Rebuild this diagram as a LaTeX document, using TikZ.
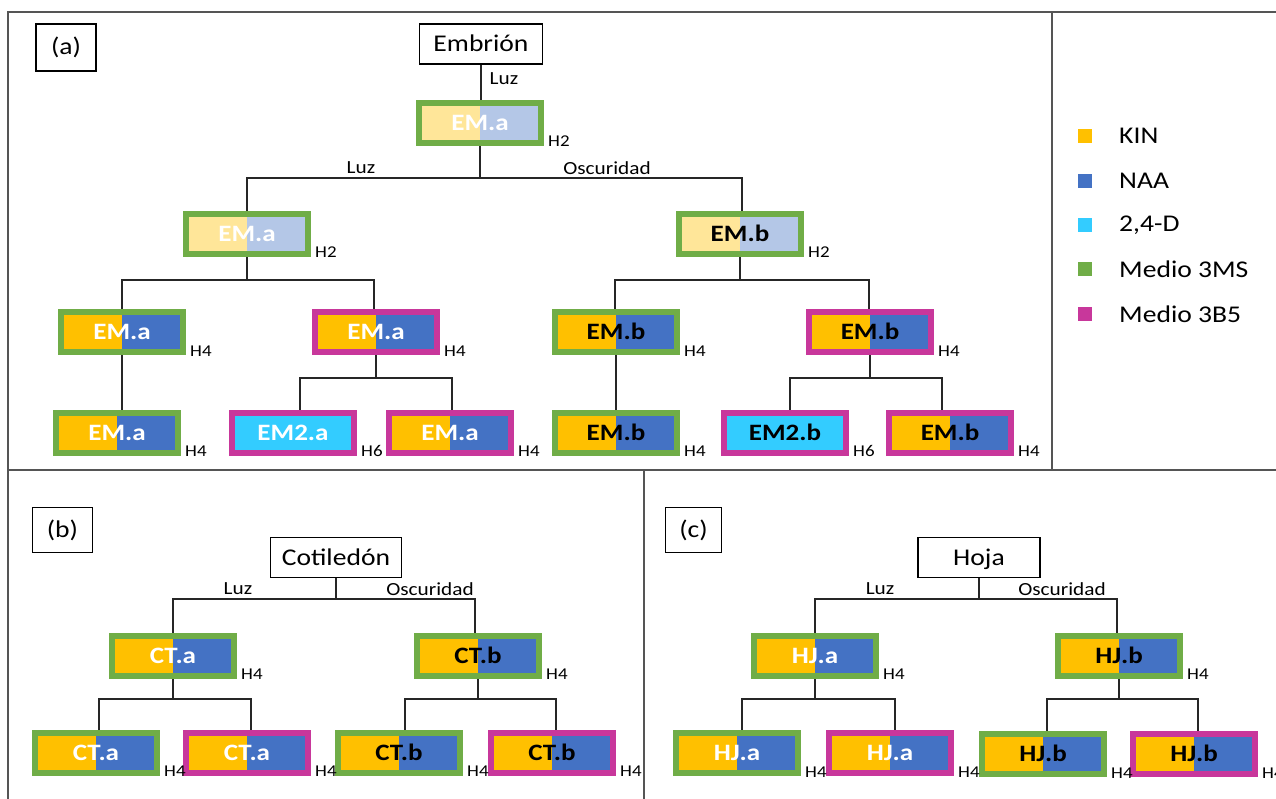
\documentclass[tikz,border=0pt]{standalone}
\usepackage{fontspec}
\setmainfont{Carlito}[FakeStretch=1.15]
\usetikzlibrary{backgrounds}
\definecolor{kin}{HTML}{FFC000}
\definecolor{naa}{HTML}{4472C4}
\definecolor{kinl}{HTML}{FFE699}
\definecolor{naal}{HTML}{B4C7E7}
\definecolor{cyn}{HTML}{33CCFF}
\definecolor{grn}{HTML}{70AD47}
\definecolor{mag}{HTML}{C8379B}
\definecolor{frm}{HTML}{555555}
\definecolor{cln}{HTML}{262626}
\tikzset{
  lcol/.store in=\lcol, rcol/.store in=\rcol, lcol=kin, rcol=naa,
  cbox/.style={rectangle, line width=6pt, minimum width=122pt, minimum height=40pt,
    inner sep=0pt, font=\fontsize{23.5}{24}\selectfont\bfseries, text height=15pt, text depth=0pt,
    path picture={\fill[\lcol] (path picture bounding box.south west) rectangle (path picture bounding box.north);
                  \fill[\rcol] (path picture bounding box.south) rectangle (path picture bounding box.north east);}},
  g/.style={draw=grn}, m/.style={draw=mag},
  ka/.style={lcol=kin, rcol=naa}, fa/.style={lcol=kinl, rcol=naal}, cy/.style={lcol=cyn, rcol=cyn},
  wt/.style={text=white}, bt/.style={text=black},
  tbox/.style={draw=black, line width=1.3pt, rectangle, minimum height=40pt, inner sep=0pt,
    font=\fontsize{24}{25}\selectfont, text height=15pt, text depth=0pt},
  lbl/.style={font=\fontsize{18.5}{19}\selectfont, inner sep=0pt},
  hlab/.style={font=\fontsize{16.5}{17}\selectfont, inner sep=0pt, anchor=base west},
  sq/.style={rectangle, minimum size=14pt, inner sep=0pt},
  legt/.style={font=\fontsize{24}{25}\selectfont, inner sep=0pt, anchor=west},
  conn/.style={draw=cln, line width=1.3pt},
  frame/.style={draw=frm, line width=2pt},
}
\newcommand\Hlab[2]{\node[hlab] (#1-h) at ([xshift=4pt,yshift=-1pt]#1.south east) {#2};}
\newcommand\fork[6]{%
  \coordinate (#1-f1) at (#4,#2); \coordinate (#1-f2) at (#6,#2);
  \draw[conn] (#1.south) -- (#1.south |- #1-f1);
  \draw[conn] (#3.north -| #1-f1) -- (#1-f1) -- (#1-f2) -- (#5.north -| #1-f2);}
\begin{document}
\begin{tikzpicture}[x=1pt, y=-1pt]
\useasboundingbox (0,0) rectangle (1276,799);
% ---------- panel (a)
\node[tbox, minimum width=60pt, minimum height=47pt] (pa) at (66,47.5) {(a)};
\node[tbox, minimum width=123pt] (emb) at (481,44) {Embrión};
\node[cbox, g, fa, wt] (a0) at (480,123) {EM.a};
\node[cbox, g, fa, wt] (a1) at (247,234) {EM.a};
\node[cbox, g, fa, bt] (b1) at (740,234) {EM.b};
\node[cbox, g, ka, wt] (a2g) at (122,332) {EM.a};
\node[cbox, m, ka, wt] (a2m) at (376,332) {EM.a};
\node[cbox, g, ka, bt] (b2g) at (616,332) {EM.b};
\node[cbox, m, ka, bt] (b2m) at (870,332) {EM.b};
\node[cbox, g, ka, wt] (a3g) at (117,432.5) {EM.a};
\node[cbox, m, cy, wt] (e2a) at (293,432.5) {EM2.a};
\node[cbox, m, ka, wt] (a3m) at (450,432.5) {EM.a};
\node[cbox, g, ka, bt] (b3g) at (616,432.5) {EM.b};
\node[cbox, m, cy, bt] (e2b) at (785,432.5) {EM2.b};
\node[cbox, m, ka, bt] (b3m) at (950,432.5) {EM.b};
\Hlab{a0}{H2}\Hlab{a1}{H2}\Hlab{b1}{H2}
\Hlab{a2g}{H4}\Hlab{a2m}{H4}\Hlab{b2g}{H4}\Hlab{b2m}{H4}
\Hlab{a3g}{H4}\Hlab{e2a}{H6}\Hlab{a3m}{H4}\Hlab{b3g}{H4}\Hlab{e2b}{H6}\Hlab{b3m}{H4}
\node[lbl] (l0) at (504,79) {Luz};
\node[lbl] (l1) at (361,168) {Luz};
\node[lbl] (l2) at (607,168) {Oscuridad};
% legend
\node[sq, fill=kin] (k1) at (1084.5,136) {};
\node[sq, fill=naa] (k2) at (1084.5,181) {};
\node[sq, fill=cyn] (k3) at (1084.5,225) {};
\node[sq, fill=grn] (k4) at (1084.5,269) {};
\node[sq, fill=mag] (k5) at (1084.5,314) {};
\node[legt] (k1t) at (1119,136) {KIN};
\node[legt] (k2t) at (1119,181) {NAA};
\node[legt] (k3t) at (1119,225) {2,4-D};
\node[legt] (k4t) at (1119,269) {Medio 3MS};
\node[legt] (k5t) at (1119,314) {Medio 3B5};
% ---------- panel (b)
\node[tbox, minimum width=60pt, minimum height=45pt] (pb) at (62.5,530) {(b)};
\node[tbox, minimum width=131pt] (cot) at (336,557.5) {Cotiledón};
\node[cbox, g, ka, wt] (cta) at (173,655.5) {CT.a};
\node[cbox, g, ka, bt] (ctb) at (478,655.5) {CT.b};
\node[cbox, g, ka, wt] (ctag) at (96,752.5) {CT.a};
\node[cbox, m, ka, wt] (ctam) at (247,752.5) {CT.a};
\node[cbox, g, ka, bt] (ctbg) at (399,752.5) {CT.b};
\node[cbox, m, ka, bt] (ctbm) at (552,752.5) {CT.b};
\Hlab{cta}{H4}\Hlab{ctb}{H4}\Hlab{ctag}{H4}\Hlab{ctam}{H4}\Hlab{ctbg}{H4}\Hlab{ctbm}{H4}
\node[lbl] (l3) at (238,589) {Luz};
\node[lbl] (l4) at (430,589) {Oscuridad};
% ---------- panel (c)
\node[tbox, minimum width=56pt, minimum height=45pt] (pc) at (693.5,530) {(c)};
\node[tbox, minimum width=122pt] (hoja) at (979,557.5) {Hoja};
\node[cbox, g, ka, wt] (hja) at (815,655.5) {HJ.a};
\node[cbox, g, ka, bt] (hjb) at (1119,655.5) {HJ.b};
\node[cbox, g, ka, wt] (hjag) at (737,753) {HJ.a};
\node[cbox, m, ka, wt] (hjam) at (890,753) {HJ.a};
\node[cbox, g, ka, bt] (hjbg) at (1043,754) {HJ.b};
\node[cbox, m, ka, bt] (hjbm) at (1194,754) {HJ.b};
\Hlab{hja}{H4}\Hlab{hjb}{H4}\Hlab{hjag}{H4}\Hlab{hjam}{H4}\Hlab{hjbg}{H4}\Hlab{hjbm}{H4}
\node[lbl] (l5) at (880,589) {Luz};
\node[lbl] (l6) at (1062,589) {Oscuridad};
% ---------- connectors and frame
\begin{scope}[on background layer]
\draw[frame] (8,799) -- (8,12) -- (1276,12);
\draw[frame] (1052,12) -- (1052,470);
\draw[frame] (8,470) -- (1276,470);
\draw[frame] (644,470) -- (644,799);
\draw[conn] (emb.south) -- (emb.south |- a0.north);
\fork{a0}{178}{a1}{247}{b1}{742}
\fork{a1}{280}{a2g}{122}{a2m}{374}
\fork{b1}{280}{b2g}{615}{b2m}{869}
\draw[conn] (a2g.south) -- (a2g.south |- a3g.north);
\fork{a2m}{378}{e2a}{300}{a3m}{452}
\draw[conn] (b2g.south) -- (b2g.south |- b3g.north);
\fork{b2m}{378}{e2b}{790}{b3m}{942}
\fork{cot}{599}{cta}{173}{ctb}{475}
\fork{cta}{699}{ctag}{99}{ctam}{251}
\fork{ctb}{699}{ctbg}{405}{ctbm}{556}
\fork{hoja}{599}{hja}{815}{hjb}{1117}
\fork{hja}{699}{hjag}{742}{hjam}{895}
\fork{hjb}{699}{hjbg}{1047}{hjbm}{1198}
\end{scope}
\end{tikzpicture}
\end{document}
